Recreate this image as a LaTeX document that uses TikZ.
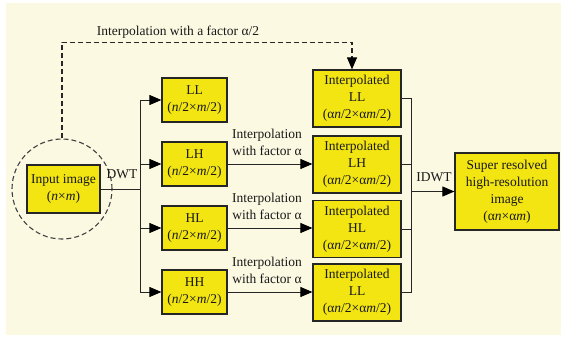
\documentclass[tikz,border=0pt]{standalone}
\usepackage{fontspec}
\setmainfont{Liberation Serif}
\usetikzlibrary{calc, arrows.meta, positioning}

\definecolor{paper}{RGB}{252,249,227}
\definecolor{boxfill}{RGB}{242,229,18}

\begin{document}
\begin{tikzpicture}[x=1pt, y=-1pt,
		font=\fontsize{13.5}{17}\selectfont,
		text=black!90,
		block/.style={draw=black!85, line width=1.2pt, fill=boxfill, align=center, inner sep=1pt},
		band/.style={block, minimum width=65pt, minimum height=44pt},
		interp/.style={block, minimum width=88pt, minimum height=57pt},
		link/.style={line width=0.9pt, black!85},
		tip/.style={-{Triangle[length=12pt,width=10pt,fill=black,color=black]}}
	]
	\def\xBUS{140};
	\def\xJOIN{411};

	% page
	\fill[paper] (6,3) rectangle (561,335);
	\useasboundingbox (0,0) rectangle (562,339);

	\begin{scope}
		\node[block, minimum width=73pt, minimum height=48pt] (inp) at (63.5,189) {Input image\\(\textit{n}×\textit{m})};
		\node[draw, circle, minimum size=100pt, line width=1.1pt, black!75, dash pattern=on 5pt off 3pt] (circ) at (62,189) {};

		\foreach \name/\y in {LL/100, LH/164, HL/228, HH/292}
		{
			\node[band] (\name) at (194.5,\y) {\name\\(\textit{n}/2×\textit{m}/2)};
		}

		\foreach \name/\lab/\y in {iLL/LL/98.5, iLH/LH/164.5, iHL/HL/229, iHH/LL/292.5}
		{
			\node[interp] (\name) at (357,\y) {Interpolated\\\lab\\(α\textit{n}/2×α\textit{m}/2)};
		}

		\node[block, minimum width=104pt, minimum height=77pt] (sr) at (507,191.5) {Super resolved\\high-resolution\\image\\(α\textit{n}×α\textit{m})};
	\end{scope}

	% DWT split
	\begin{scope}
		\coordinate (split) at (\xBUS,189);
		\draw[link] (inp.east) -- (split);
		\draw[link] (LL -| split) -- (HH -| split);
		\foreach \name in {LL,LH,HL,HH}
		{
			\draw[link, tip] (\name -| split) -- (\name.west);
		}
		\node (dwt) at (122,174) {DWT};
	\end{scope}

	% interpolation of the bands
	\begin{scope}
		\foreach \a/\b in {LH/iLH, HL/iHL, HH/iHH}
		{
			\draw[link, tip] (\a.east) -- (\a -| \b.west);
			\node[align=center] (lbl\a) at ($(\a.east)!0.5!(\a -| \b.west)+(-3,-22)$) {Interpolation\\with factor α};
		}
		\draw[link, line width=1.1pt, dash pattern=on 5pt off 3pt, tip] (circ.north) -- ++(0,-96) -| ([xshift=-5pt]iLL.north);
		\node (half) at (178,32) {Interpolation with a factor α/2};
	\end{scope}

	% IDWT merge
	\begin{scope}
		\coordinate (join) at (\xJOIN,191.5);
		\foreach \name in {iLL,iLH,iHL,iHH}
		{
			\draw[link] (\name.east) -- (\name -| join);
		}
		\draw[link] (iLL -| join) -- (iHH -| join);
		\draw[link, tip] (join) -- (sr.west);
		\node (idwt) at (434,177) {IDWT};
	\end{scope}
\end{tikzpicture}
\end{document}
